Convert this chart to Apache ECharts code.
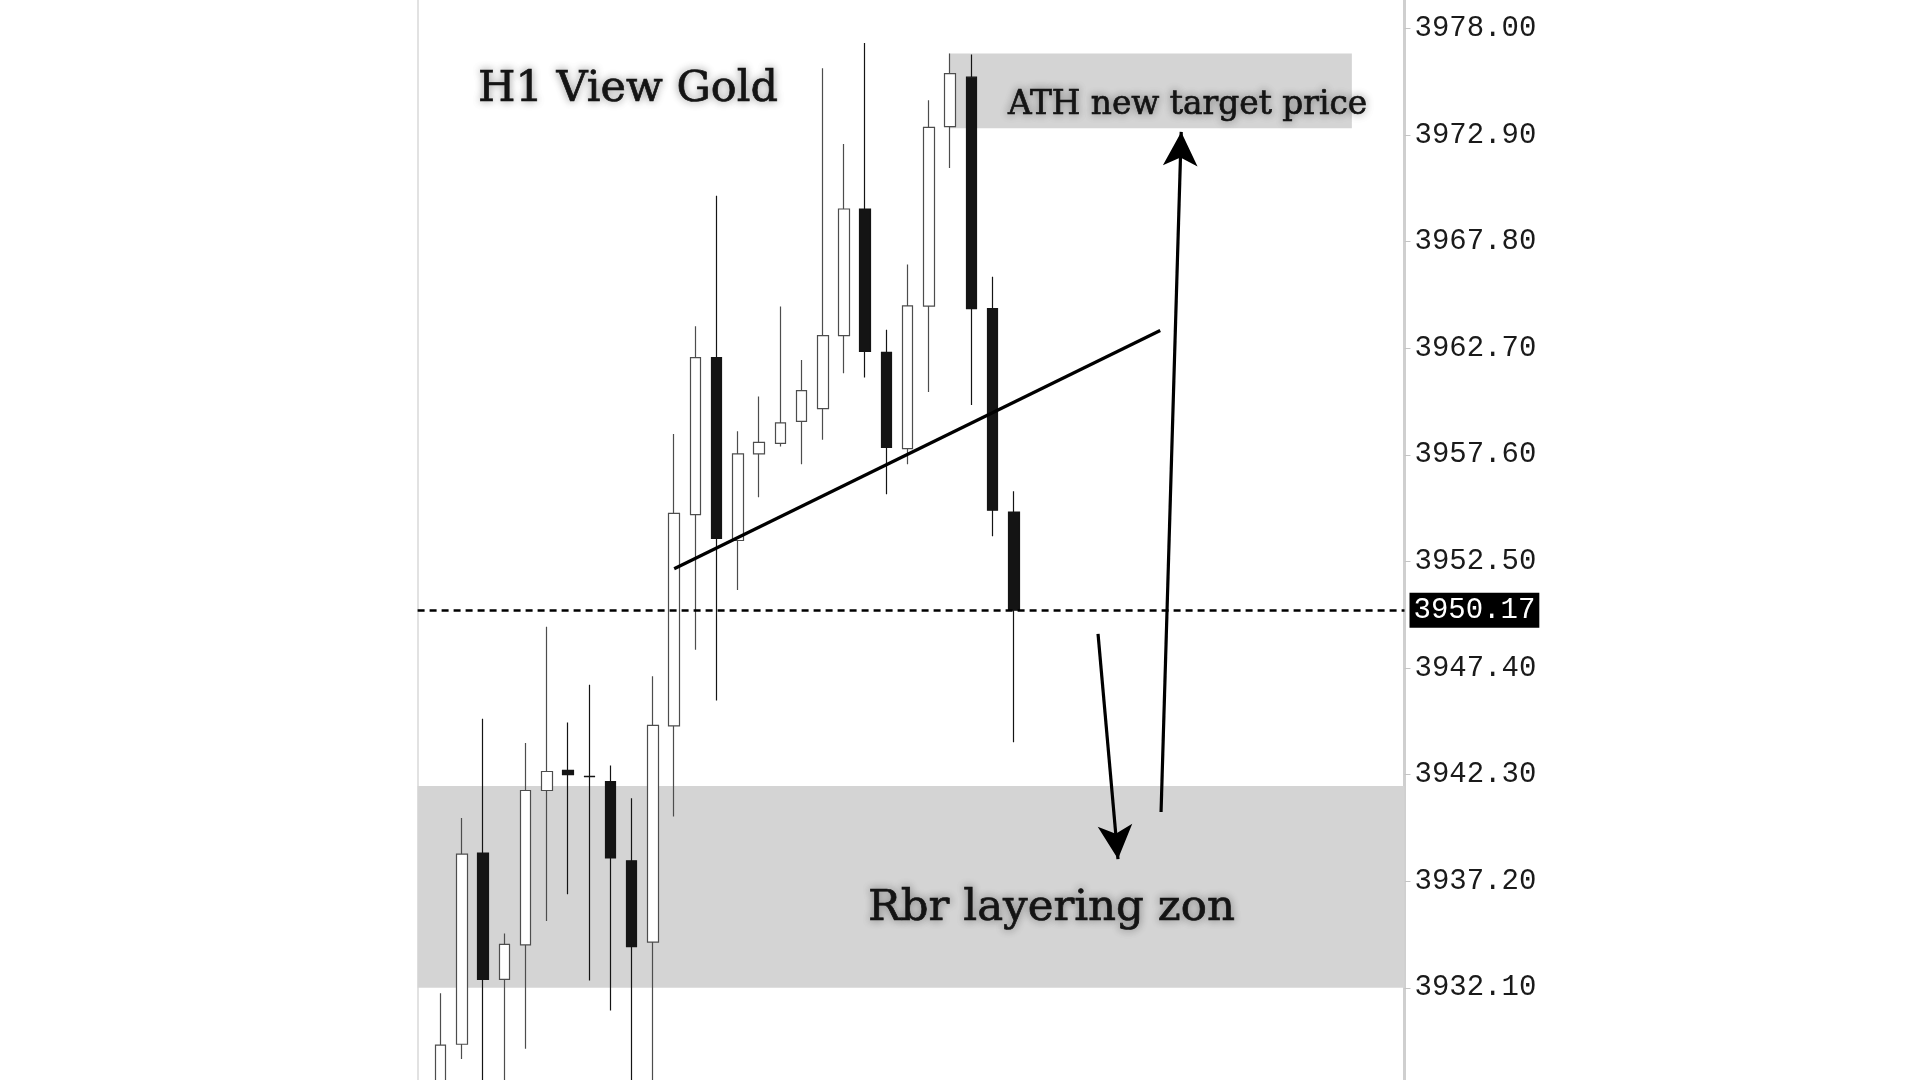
<!DOCTYPE html>
<html>
<head>
<meta charset="utf-8">
<title>H1 View Gold</title>
<script src="https://cdn.jsdelivr.net/npm/echarts@6/dist/echarts.min.js"></script>
<style>
  html, body { margin: 0; padding: 0; background: #fff; }
  #chart { width: 1920px; height: 1080px; }
</style>
</head>
<body>
<div id="chart"></div>
<script>
// gold H1 candles, oldest first
const opens  = [3926.0, 3929.4, 3938.55, 3932.5, 3934.15, 3941.54, 3942.5, 3942.22, 3941.97, 3938.18,
                3934.29, 3944.63, 3954.74, 3962.25, 3953.5, 3957.65, 3958.15, 3959.2, 3959.81, 3963.3,
                3969.36, 3962.5, 3957.9, 3964.71, 3973.3, 3975.67, 3964.6, 3954.86];
const closes = [3929.36, 3938.5, 3932.5, 3934.18, 3941.54, 3942.45, 3942.3, 3942.2, 3938.31, 3934.07,
                3944.66, 3954.8, 3962.25, 3953.6, 3957.65, 3958.2, 3959.13, 3960.67, 3963.3, 3969.36,
                3962.55, 3957.95, 3964.73, 3973.27, 3975.84, 3964.59, 3954.95, 3950.17];
const lows   = [3925.5, 3928.7, 3926.0, 3926.8, 3929.19, 3935.3, 3936.58, 3932.45, 3931.01, 3926.0,
                3925.5, 3940.3, 3948.27, 3945.85, 3951.13, 3955.57, 3958.0, 3957.15, 3958.32, 3961.5,
                3961.3, 3955.71, 3957.15, 3960.61, 3971.32, 3959.98, 3953.7, 3943.85];
const highs  = [3931.84, 3940.23, 3944.97, 3934.7, 3943.81, 3949.38, 3944.79, 3946.6, 3942.74, 3941.17,
                3947.01, 3958.6, 3963.75, 3970.0, 3958.73, 3960.39, 3964.7, 3962.14, 3976.1, 3972.47,
                3977.3, 3963.58, 3966.7, 3974.56, 3976.8, 3976.75, 3966.12, 3955.86];

const priceTicks = [3932.10, 3937.20, 3942.30, 3947.40, 3952.50, 3957.60, 3962.70, 3967.80, 3972.90, 3978.00];
const lastPrice = 3950.17;

// drawn annotations, in [bar index, price]
const layeringZone = [3932.1, 3941.75];
const athZone = [[23.95, 3976.8], [42.93, 3973.23]];
const trendLine = [[11, 3952.15], [33.9, 3963.55]];
const arrowDown = [[30.97, 3949.03], [31.91, 3938.26]];
const arrowUp = [[33.94, 3940.51], [34.89, 3973.05]];

const candles = opens.map((o, i) => [i, o, closes[i], lows[i], highs[i]]);

const chart = echarts.init(document.getElementById('chart'));

const serif = '"DejaVu Serif", "Liberation Serif", serif';
const mono = '"Liberation Mono", "DejaVu Sans Mono", monospace';
const yMin = 3927.69, yMax = 3979.36;

function arrow(pts) {
  return [
    {coord: pts[0], symbol: 'none'},
    {coord: pts[1], symbol: 'arrow', symbolSize: [26, 34]}
  ];
}

function heading(text, x, y, size) {
  return {
    type: 'text',
    z: 100,
    style: {
      x: x, y: y,
      text: text,
      fill: '#141414',
      stroke: '#141414',
      lineWidth: 0.7,
      font: size + 'px ' + serif,
      verticalAlign: 'middle',
      textShadowBlur: 8,
      textShadowColor: 'rgba(0,0,0,0.4)'
    }
  };
}

chart.setOption({
  animation: false,
  backgroundColor: '#fff',
  grid: {left: 417.6, right: 515.5, top: 0, bottom: 0},
  xAxis: {
    type: 'value',
    min: -1.09,
    max: 45.41,
    show: false
  },
  yAxis: [
    {
      type: 'value',
      position: 'right',
      min: yMin,
      max: yMax,
      splitLine: {show: false},
      axisLine: {show: true, onZero: false, lineStyle: {color: '#cfcfcf', width: 3}},
      axisTick: {show: true, customValues: priceTicks, length: 6, lineStyle: {color: '#c4c4c4'}},
      axisLabel: {
        customValues: priceTicks,
        formatter: v => v.toFixed(2),
        fontFamily: mono,
        fontSize: 29,
        color: '#1a1a1a',
        margin: 10,
        padding: [5, 0, 0, 0]
      }
    },
    {
      type: 'value',
      position: 'left',
      min: yMin,
      max: yMax,
      splitLine: {show: false},
      axisLine: {show: true, onZero: false, lineStyle: {color: '#e2e2e2', width: 2}},
      axisTick: {show: false},
      axisLabel: {show: false}
    }
  ],
  series: [
    {
      name: 'Gold H1',
      type: 'candlestick',
      data: candles,
      encode: {x: 0, y: [1, 2, 3, 4]},
      barWidth: 11,
      itemStyle: {
        color: '#ffffff',
        color0: '#141414',
        borderColor: '#4d4d4d',
        borderColor0: '#141414',
        borderWidth: 1.2
      },
      markArea: {
        silent: true,
        itemStyle: {color: '#d4d4d4'},
        data: [
          [{yAxis: layeringZone[1]}, {yAxis: layeringZone[0]}],
          [{coord: athZone[0]}, {coord: athZone[1]}]
        ]
      },
      markLine: {
        silent: true,
        symbol: ['none', 'none'],
        label: {show: false},
        lineStyle: {color: '#000', width: 3.2, type: 'solid'},
        data: [
          {
            yAxis: lastPrice,
            lineStyle: {color: '#000', width: 2.5, type: [7, 5]},
            label: {
              show: true,
              position: 'end',
              distance: 5,
              formatter: () => lastPrice.toFixed(2),
              color: '#fff',
              backgroundColor: '#000',
              fontFamily: mono,
              fontSize: 29,
              padding: [3, 4, 3, 4]
            }
          },
          [{coord: trendLine[0]}, {coord: trendLine[1]}],
          arrow(arrowDown),
          arrow(arrowUp)
        ]
      }
    }
  ],
  graphic: [
    heading('H1 View Gold', 478, 90, 43),
    heading('ATH new target price', 1008, 105, 32.8),
    heading('Rbr layering zon', 868, 909, 43.5)
  ]
});
</script>
</body>
</html>
